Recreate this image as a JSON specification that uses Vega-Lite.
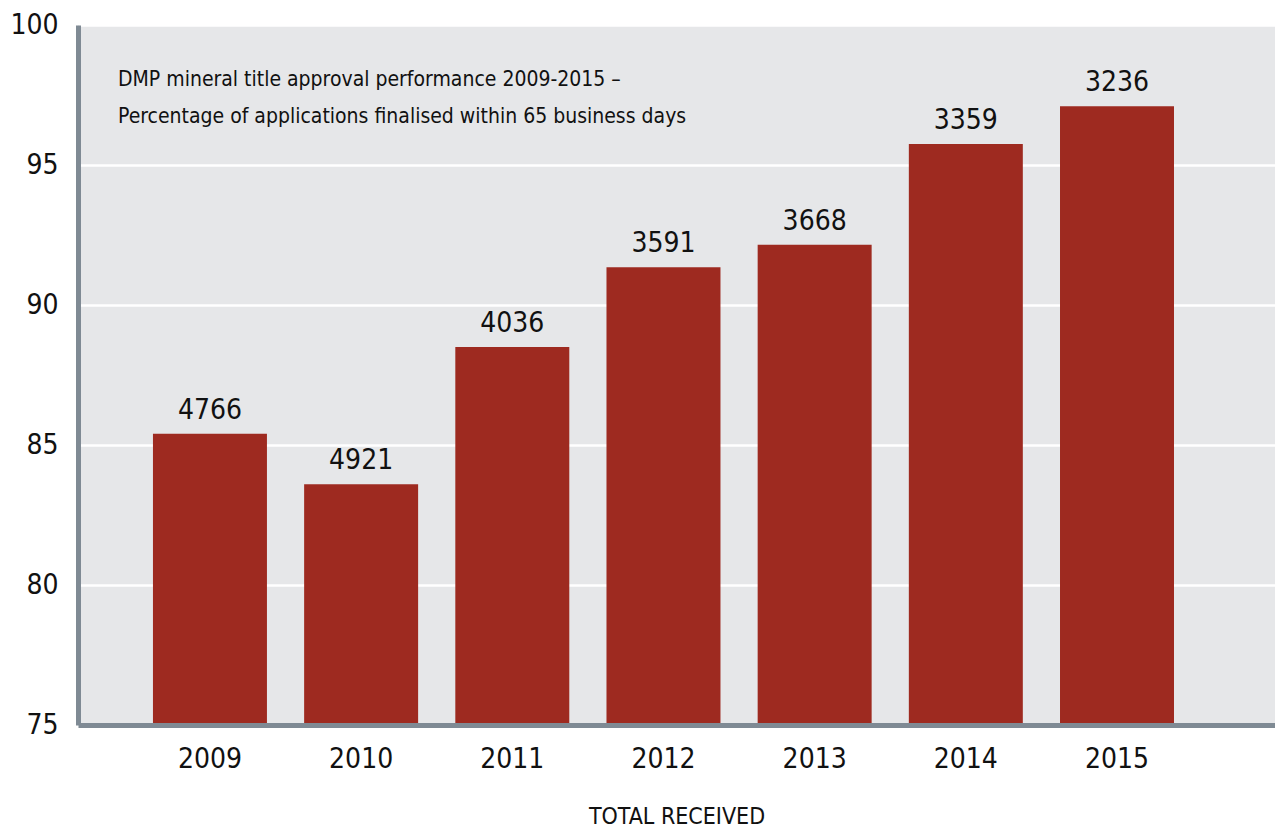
{
  "$schema": "https://vega.github.io/schema/vega-lite/v6.json",
  "width": 1197,
  "height": 700,
  "autosize": {"type": "none"},
  "padding": {"left": 78, "top": 25, "right": 0, "bottom": 104},
  "background": "white",
  "config": {
    "font": "DejaVu Sans Condensed, sans-serif",
    "view": {"fill": "#e6e7e9", "stroke": null}
  },
  "title": {
    "text": ["DMP mineral title approval performance 2009-2015 –", "Percentage of applications finalised within 65 business days"],
    "anchor": "start",
    "frame": "group",
    "orient": "top",
    "baseline": "top",
    "offset": 0,
    "dy": 116,
    "dx": 40,
    "fontSize": 21,
    "fontWeight": "normal",
    "color": "#111111",
    "lineHeight": 37
  },
  "data": {
    "values": [
      {"year": "2009", "pct": 85.4, "received": 4766},
      {"year": "2010", "pct": 83.6, "received": 4921},
      {"year": "2011", "pct": 88.5, "received": 4036},
      {"year": "2012", "pct": 91.35, "received": 3591},
      {"year": "2013", "pct": 92.15, "received": 3668},
      {"year": "2014", "pct": 95.75, "received": 3359},
      {"year": "2015", "pct": 97.1, "received": 3236}
    ]
  },
  "encoding": {
    "x": {
      "field": "year",
      "type": "nominal",
      "sort": null,
      "scale": {"paddingInner": 0.246, "paddingOuter": 0.582, "align": 0.426},
      "axis": {
        "title": "TOTAL RECEIVED",
        "titleFontSize": 23,
        "titleFontWeight": "normal",
        "titleColor": "#111111",
        "titlePadding": 32,
        "titleBaseline": "top",
        "labelAngle": 0,
        "labelFontSize": 28,
        "labelColor": "#111111",
        "labelPadding": 20,
        "ticks": false,
        "domainColor": "#7f8a94",
        "domainWidth": 5,
        "zindex": 1
      }
    }
  },
  "layer": [
    {
      "mark": {"type": "bar", "color": "#9e2a20", "clip": true},
      "encoding": {
        "y": {
          "field": "pct",
          "type": "quantitative",
          "scale": {"domain": [75, 100], "zero": false, "nice": false},
          "axis": {
            "title": null,
            "values": [75, 80, 85, 90, 95, 100],
            "labelFontSize": 28,
            "labelColor": "#111111",
            "labelPadding": 20,
            "ticks": false,
            "domainColor": "#7f8a94",
            "domainWidth": 5,
            "gridColor": "white",
            "gridWidth": 2.5,
            "gridOpacity": 1
          }
        }
      }
    },
    {
      "mark": {"type": "text", "fontSize": 28, "baseline": "alphabetic", "dy": -15, "color": "#111111"},
      "encoding": {
        "y": {"field": "pct", "type": "quantitative"},
        "text": {"field": "received", "type": "nominal"}
      }
    }
  ]
}
